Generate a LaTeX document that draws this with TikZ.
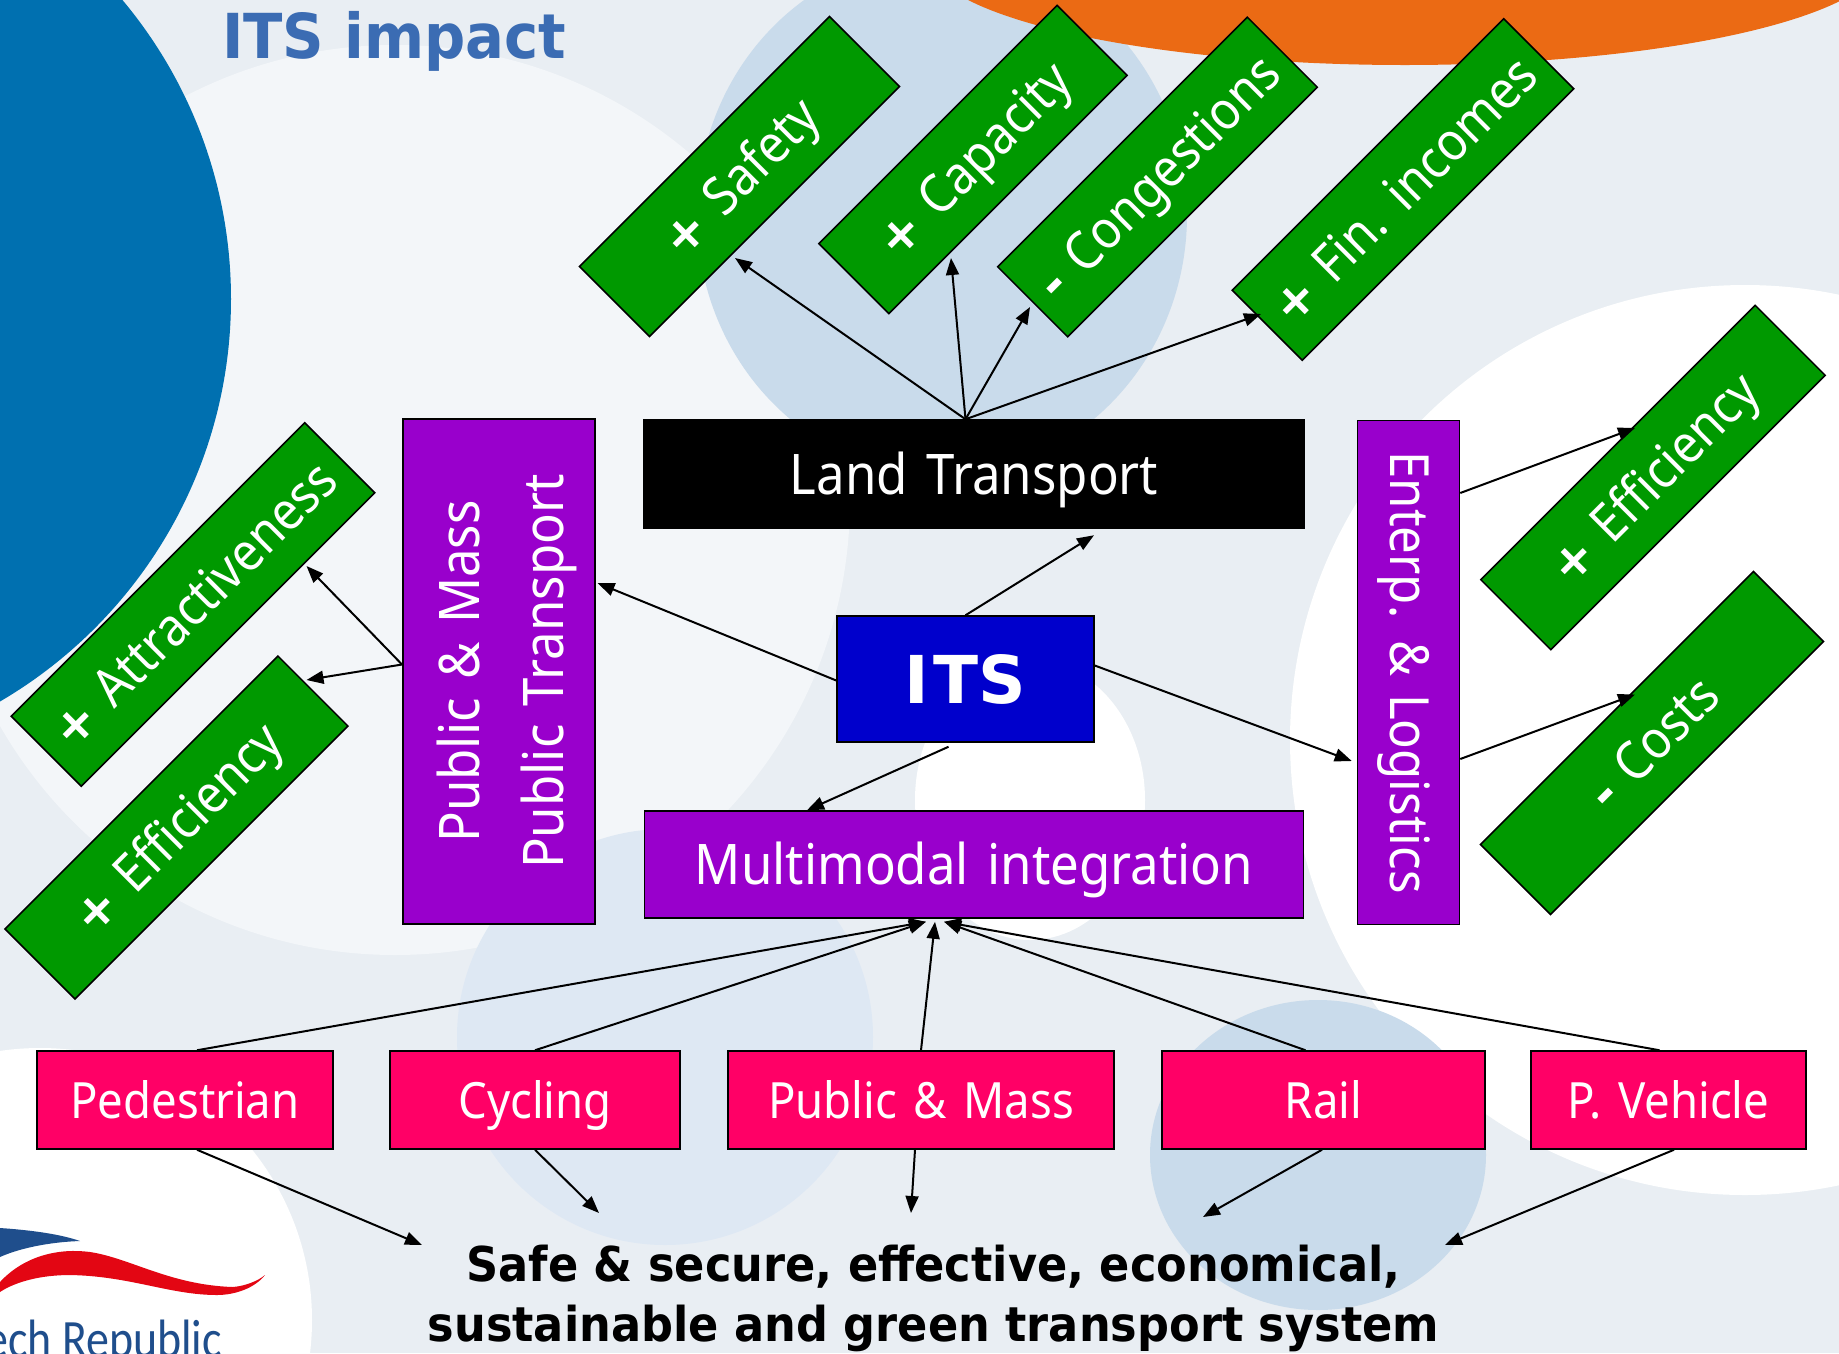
\documentclass[tikz,border=0pt]{standalone}
\usepackage{fontspec}
\setmainfont[FakeStretch=0.91,WordSpace=1.4]{Noto Sans}
\newfontfamily\titlefont{DejaVu Sans}
\newfontfamily\headfont[FakeStretch=0.93]{DejaVu Sans}
\newfontfamily\logofont[FakeStretch=0.85]{Carlito}
\usetikzlibrary{arrows.meta,calc}
\definecolor{basebg}{HTML}{E9EEF3}
\definecolor{palebg}{HTML}{F3F6F9}
\definecolor{blobblue}{HTML}{C9DBEB}
\definecolor{blobpale}{HTML}{DEE8F3}
\definecolor{discblue}{HTML}{0070B0}
\definecolor{discorange}{HTML}{EB6A14}
\definecolor{titleblue}{HTML}{3B6CB3}
\definecolor{logoblue}{HTML}{1F4E8C}
\definecolor{logored}{HTML}{E30613}
\definecolor{boxgreen}{HTML}{009900}
\definecolor{boxpurple}{HTML}{9900CC}
\definecolor{boxpink}{HTML}{FF0066}
\definecolor{boxblue}{HTML}{0000CC}
\tikzset{
 x=1pt,y=-1pt,
 boxbase/.style={draw=black,line width=1.5pt,inner sep=0pt,text=white,align=center},
 greenbox/.style={boxbase,fill=boxgreen,rotate=45,minimum height=99pt,text height=38pt,text depth=0pt,font=\fontsize{53}{60}\selectfont},
 purplebox/.style={boxbase,fill=boxpurple,font=\fontsize{56}{84}\selectfont},
 pinkbox/.style={boxbase,fill=boxpink,minimum height=98pt,text height=36pt,text depth=0pt,font=\fontsize{50}{60}\selectfont},
 arr/.style={draw=black,line width=2pt,-{Triangle[length=17pt,width=13pt]}},
}
\newcommand{\bplus}{{\titlefont\bfseries\fontsize{50}{50}\selectfont +}}
\newcommand{\bminus}{{\titlefont\bfseries\fontsize{50}{50}\selectfont -}}
\begin{document}
\begin{tikzpicture}
\useasboundingbox (0,0) rectangle (1839,1353);
\clip (0,0) rectangle (1839,1353);
% background
\fill[basebg] (0,0) rectangle (1839,1353);
\fill[palebg] (395,500) circle[radius=455];
\fill[blobpale] (665,1037) ellipse[x radius=208,y radius=208];
\fill[white] (1745,740) circle[radius=455];
\fill[white] (1030,800) ellipse[x radius=115,y radius=140];
\fill[blobblue] (942,215) ellipse[x radius=245,y radius=260];
\fill[blobblue] (1318,1155) ellipse[x radius=168,y radius=155];
\fill[white] (40,1320) circle[radius=272];
\fill[discblue] (-235,299) circle[radius=466];
\fill[discorange] (1405,-46) ellipse[x radius=480,y radius=111];
% logo
\fill[logoblue] (0,1228) .. controls (30,1230) and (60,1234) .. (80,1241) .. controls (50,1242) and (20,1248) .. (0,1257) -- cycle;
\fill[logored] (0,1282) .. controls (25,1255) and (60,1248) .. (90,1252) .. controls (130,1258) and (170,1285) .. (233,1287) .. controls (245,1286) and (258,1281) .. (265,1275) .. controls (255,1288) and (235,1295) .. (217,1295) .. controls (170,1295) and (130,1276) .. (70,1275) .. controls (40,1275) and (15,1282) .. (0,1292) -- cycle;
\node[anchor=base east,inner sep=0pt,text=logoblue,font=\logofont\fontsize{54}{54}\selectfont] (logotext) at (222,1357) {ech Republic};
% title
\node[anchor=base west,inner sep=0pt,text=titleblue,font=\headfont\bfseries\fontsize{62}{62}\selectfont] (title) at (222,58) {ITS impact};
% green boxes
\node[greenbox,minimum width=353.5pt] (safety) at (739.5,176.5) {\bplus{} Safety};
\node[greenbox,minimum width=337pt] (capacity) at (973,159.5) {\bplus{} Capacity};
\node[greenbox,minimum width=353pt] (congestions) at (1157.5,177) {\bminus{} Congestions};
\node[greenbox,minimum width=384pt] (incomes) at (1403,189.5) {\bplus{} Fin. incomes};
\node[greenbox,minimum width=415pt] (attract) at (193,604.5) {\bplus{} Attractiveness};
\node[greenbox,minimum width=386pt] (effleft) at (176.5,827.5) {\bplus{} Efficiency};
\node[greenbox,minimum width=388pt] (effright) at (1653,477.5) {\bplus{} Efficiency};
\node[greenbox,minimum width=386pt] (costs) at (1652,743) {\bminus{} Costs};
% central boxes
\node[purplebox,rotate=90,minimum width=505pt,minimum height=192pt,text height=128.5pt,text depth=0pt] (pubmass) at (498.75,671.5) {Public \& Mass\\Public Transport};
\node[boxbase,fill=black,minimum width=660pt,minimum height=108pt,text height=40pt,text depth=0pt,font=\fontsize{56}{60}\selectfont] (land) at (974,474) {Land Transport};
\node[boxbase,fill=boxblue,minimum width=257pt,minimum height=126pt,text height=48pt,text depth=0pt,font=\titlefont\bfseries\fontsize{66}{70}\selectfont] (its) at (965.5,679) {I\kern5pt TS};
\node[purplebox,minimum width=659pt,minimum height=107pt,text height=40pt,text depth=0pt] (multi) at (974,864.5) {Multimodal integration};
\node[purplebox,rotate=-90,minimum width=504pt,minimum height=102pt,text height=40pt,text depth=4pt,font=\fontsize{54}{60}\selectfont] (enterp) at (1408.5,672.5) {Enterp. \& Logistics};
% pink boxes
\node[pinkbox,minimum width=296pt] (ped) at (185,1100) {Pedestrian};
\node[pinkbox,minimum width=290pt] (cyc) at (535,1100) {Cycling};
\node[pinkbox,minimum width=386pt] (pub) at (921,1100) {Public \& Mass};
\node[pinkbox,minimum width=323pt] (rail) at (1323.5,1100) {Rail};
\node[pinkbox,minimum width=275pt] (veh) at (1668.5,1100) {P. Vehicle};
% goal text
\node[inner sep=0pt,align=center,font=\headfont\bfseries\fontsize{48}{60}\selectfont] (goal) at (933.5,1298) {Safe \& secure, effective, economical,\\sustainable and green transport system};
% connectors: land transport
\coordinate (landhub) at ([xshift=-8.5pt]land.north);
\draw[arr] (landhub) -- ($(safety.center)+(-4.5,81.5)$);
\draw[arr] (landhub) -- ($(capacity.center)+(-22,98.5)$);
\draw[arr] (landhub) -- ($(congestions.center)+(-127.5,130)$);
\draw[arr] (landhub) -- ($(incomes.center)+(-142,124.5)$);
% connectors: public & mass transport
\coordinate (pubhub) at ([yshift=7pt]pubmass.north);
\draw[arr] (pubhub) -- ($(attract.center)+(113.5,-38.5)$);
\draw[arr] (pubhub) -- ($(effleft.center)+(130,-147.5)$);
% connectors: ITS
\draw[arr] ([yshift=-1.5pt]its.west) -- ([xshift=2pt,yshift=88.5pt]pubmass.south);
\draw[arr] (its.north) -- ([xshift=120pt,yshift=-6.5pt]land.south);
\draw[arr] ([yshift=13.5pt]its.east) -- ([xshift=-5pt,yshift=-88.5pt]enterp.south);
\draw[arr] ([xshift=-17pt,yshift=-4pt]its.south) -- ([xshift=-167pt]multi.north);
% connectors: enterprise
\draw[arr] ([yshift=179.5pt]enterp.north) -- ($(effright.center)+(-18,-49.5)$);
\draw[arr] ([yshift=-86.5pt]enterp.north) -- ($(costs.center)+(-17,-48.5)$);
% connectors: modes to multimodal
\draw[arr] ([xshift=12pt]ped.north) -- ([xshift=-48pt,yshift=-3pt]multi.south);
\draw[arr] (cyc.north) -- ([xshift=-48pt,yshift=-3pt]multi.south);
\draw[arr] (pub.north) -- ([xshift=-39pt,yshift=-3pt]multi.south);
\draw[arr] ([xshift=-18pt]rail.north) -- ([xshift=-30pt,yshift=-3pt]multi.south);
\draw[arr] ([xshift=-9pt]veh.north) -- ([xshift=-30pt,yshift=-3pt]multi.south);
% connectors: modes to goal
\draw[arr] ([xshift=12pt]ped.south) -- ($(goal.center)+(-511.5,-53)$);
\draw[arr] (cyc.south) -- ($(goal.center)+(-334.5,-85)$);
\draw[arr] ([xshift=-6pt]pub.south) -- ($(goal.center)+(-22.5,-85)$);
\draw[arr] ([xshift=-1.5pt]rail.south) -- ($(goal.center)+(269.5,-81)$);
\draw[arr] ([xshift=5.5pt]veh.south) -- ($(goal.center)+(511.5,-53)$);
\end{tikzpicture}
\end{document}
